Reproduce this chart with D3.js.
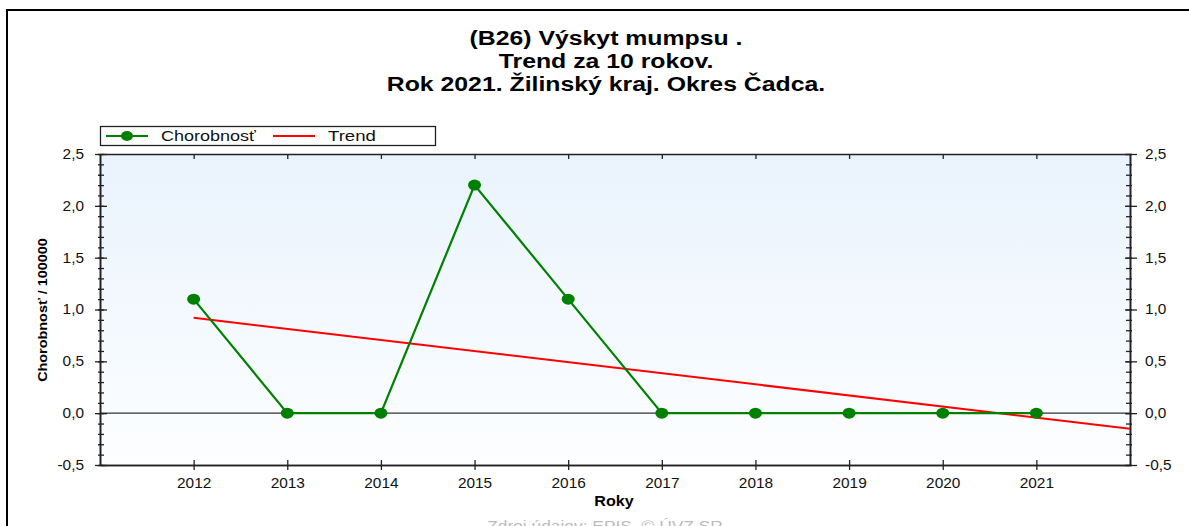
<!DOCTYPE html>
<html>
<head>
<meta charset="utf-8">
<script src="https://cdn.jsdelivr.net/npm/d3@7"></script>
<style>
  body { margin: 0; background: #fff; }
  svg { display: block; font-family: "Liberation Sans", Arial, sans-serif; }
</style>
</head>
<body>
<svg width="1189" height="526"></svg>
<script>
// data
var years = [2012, 2013, 2014, 2015, 2016, 2017, 2018, 2019, 2020, 2021];
var incidence = [1.1, 0, 0, 2.2, 1.1, 0, 0, 0, 0, 0];
var trendYears = [2012, 2022];
var trendValues = [0.92, -0.15];
var yMajor = [-0.5, 0, 0.5, 1.0, 1.5, 2.0, 2.5];
var titleLines = ["(B26) Výskyt mumpsu .", "Trend za 10 rokov.", "Rok 2021. Žilinský kraj. Okres Čadca."];

var svg = d3.select("svg");
var margin = {left: 100, right: 1130, top: 154, bottom: 465};

var x = d3.scaleLinear().domain([2011, 2022]).range([margin.left, margin.right]);
var y = d3.scaleLinear().domain([-0.5, 2.5]).range([margin.bottom, margin.top]);
var fmt = function(d) { return d3.format(".1f")(d).replace(".", ",").replace("−", "-"); };
var yMinor = d3.range(-5, 26).map(function(d) { return d / 10; });

// the original picture is a bit wider than tall, so texts get stretched
function stretch(sel, k) {
    sel.each(function() {
        var w = this.getComputedTextLength();
        d3.select(this).attr("textLength", w * k).attr("lengthAdjust", "spacingAndGlyphs");
    });
}

// outer frame
svg.append("path")
    .attr("d", "M7,540 V10 H1200")
    .attr("fill", "none")
    .attr("stroke", "#000")
    .attr("stroke-width", 2);

// title
svg.append("g").selectAll("text")
    .data(titleLines)
    .enter().append("text")
    .attr("x", 606)
    .attr("y", function(d, i) { return 45 + i * 23; })
    .attr("text-anchor", "middle")
    .attr("font-size", 20)
    .attr("font-weight", "bold")
    .text(function(d) { return d; })
    .call(stretch, 1.24);

// plot background
var grad = svg.append("defs").append("linearGradient")
    .attr("id", "bg").attr("x1", 0).attr("y1", 0).attr("x2", 0).attr("y2", 1);
grad.append("stop").attr("offset", "0%").attr("stop-color", "#e9f3fd");
grad.append("stop").attr("offset", "100%").attr("stop-color", "#fdfeff");
svg.append("rect")
    .attr("x", margin.left).attr("y", margin.top)
    .attr("width", margin.right - margin.left)
    .attr("height", margin.bottom - margin.top)
    .attr("fill", "url(#bg)");

// top border + inward ticks
svg.append("g")
    .attr("transform", "translate(0," + margin.top + ")")
    .call(d3.axisBottom(x).tickValues(years).tickSize(5).tickSizeOuter(0).tickFormat(""))
    .call(function(g) { g.select(".domain").attr("stroke", "#333"); });

// zero line
svg.append("line")
    .attr("x1", margin.left).attr("x2", margin.right)
    .attr("y1", y(0)).attr("y2", y(0))
    .attr("stroke", "#333").attr("stroke-width", 1.2);

// bottom axis
var xAxis = svg.append("g").attr("transform", "translate(0," + margin.bottom + ")");
xAxis.call(d3.axisBottom(x).tickValues(years).tickSize(5).tickSizeOuter(0).tickPadding(8).tickFormat(d3.format("d")));
xAxis.append("g").call(d3.axisTop(x).tickValues(years).tickSize(5).tickSizeOuter(0).tickFormat(""));

// left axis
var yLeft = svg.append("g").attr("transform", "translate(" + margin.left + ",0)");
yLeft.call(d3.axisLeft(y).tickValues(yMinor).tickSize(2).tickSizeOuter(0).tickFormat(""));
yLeft.append("g").call(d3.axisRight(y).tickValues(yMinor).tickSize(4).tickSizeOuter(0).tickFormat(""));
yLeft.append("g").call(d3.axisRight(y).tickValues(yMajor).tickSize(7).tickSizeOuter(0).tickFormat(""));
yLeft.append("g").call(d3.axisLeft(y).tickValues(yMajor).tickSize(5).tickSizeOuter(0).tickPadding(11).tickFormat(fmt));

// right axis
var yRight = svg.append("g").attr("transform", "translate(" + margin.right + ",0)");
yRight.call(d3.axisRight(y).tickValues(yMinor).tickSize(2).tickSizeOuter(0).tickFormat(""));
yRight.append("g").call(d3.axisLeft(y).tickValues(yMinor).tickSize(4).tickSizeOuter(0).tickFormat(""));
yRight.append("g").call(d3.axisLeft(y).tickValues(yMajor).tickSize(5).tickSizeOuter(0).tickFormat(""));
yRight.append("g").call(d3.axisRight(y).tickValues(yMajor).tickSize(7).tickSizeOuter(0).tickPadding(8).tickFormat(fmt));

svg.selectAll(".tick text").attr("font-size", 14).attr("fill", "#111")
    .attr("font-family", "'Liberation Sans', Arial, sans-serif")
    .call(stretch, 1.1);
svg.selectAll(".domain, .tick line").attr("stroke", "#222").attr("stroke-width", 1.3);

// axis titles
svg.append("text")
    .attr("transform", "translate(47,310) rotate(-90)")
    .attr("text-anchor", "middle")
    .attr("font-size", 12)
    .attr("font-weight", "bold")
    .text("Chorobnosť / 100000")
    .call(stretch, 1.2);
svg.append("text")
    .attr("x", 614).attr("y", 506)
    .attr("text-anchor", "middle")
    .attr("font-size", 14)
    .attr("font-weight", "bold")
    .text("Roky")
    .call(stretch, 1.15);
svg.append("text")
    .attr("x", 605).attr("y", 531)
    .attr("text-anchor", "middle")
    .attr("font-size", 14)
    .attr("fill", "#bbb")
    .text("Zdroj údajov: EPIS, © ÚVZ SR")
    .call(stretch, 1.24);

// clip for the trend line
svg.append("clipPath").attr("id", "plot").append("rect")
    .attr("x", margin.left).attr("y", margin.top)
    .attr("width", margin.right - margin.left)
    .attr("height", margin.bottom - margin.top);

// trend
var trend = trendYears.map(function(d, i) { return [d, trendValues[i]]; });
svg.append("path")
    .datum(trend)
    .attr("clip-path", "url(#plot)")
    .attr("fill", "none")
    .attr("stroke", "#ff0000")
    .attr("stroke-width", 2)
    .attr("d", d3.line().x(function(d) { return x(d[0]); }).y(function(d) { return y(d[1]); }));

// incidence series
var series = years.map(function(d, i) { return [d, incidence[i]]; });
svg.append("path")
    .datum(series)
    .attr("fill", "none")
    .attr("stroke", "#008000")
    .attr("stroke-width", 2.2)
    .attr("d", d3.line().x(function(d) { return x(d[0]); }).y(function(d) { return y(d[1]); }));
svg.append("g").selectAll("ellipse")
    .data(series)
    .enter().append("ellipse")
    .attr("cx", function(d) { return x(d[0]); })
    .attr("cy", function(d) { return y(d[1]); })
    .attr("rx", 6.5)
    .attr("ry", 5.5)
    .attr("fill", "#008000");

// legend
var legend = svg.append("g").attr("transform", "translate(100,126)");
legend.append("rect")
    .attr("x", 0.5).attr("y", 0.5).attr("width", 335).attr("height", 19)
    .attr("fill", "#fff").attr("stroke", "#222").attr("stroke-width", 1.3);
legend.append("line").attr("x1", 6).attr("x2", 48).attr("y1", 10).attr("y2", 10)
    .attr("stroke", "#008000").attr("stroke-width", 2.2);
legend.append("ellipse").attr("cx", 27).attr("cy", 10).attr("rx", 6).attr("ry", 5).attr("fill", "#008000");
legend.append("text").attr("x", 61).attr("y", 15).attr("font-size", 15).attr("fill", "#111")
    .text("Chorobnosť").call(stretch, 1.2);
legend.append("line").attr("x1", 173).attr("x2", 215).attr("y1", 10).attr("y2", 10)
    .attr("stroke", "#ff0000").attr("stroke-width", 2);
legend.append("text").attr("x", 228).attr("y", 15).attr("font-size", 15).attr("fill", "#111")
    .text("Trend").call(stretch, 1.24);
</script>
</body>
</html>
